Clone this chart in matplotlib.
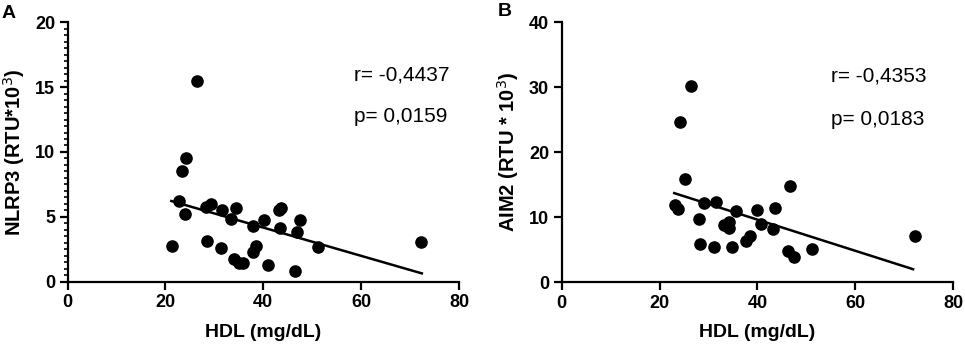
import matplotlib
matplotlib.use("Agg")
import matplotlib.pyplot as plt
from matplotlib.ticker import MultipleLocator

plt.rcParams["font.family"] = ["Liberation Sans", "DejaVu Sans"]

# Panel A: HDL vs NLRP3
hdl_a = [26.5, 24.2, 23.3, 22.7, 23.9, 21.4, 28.2, 29.4, 31.6, 34.4, 33.5, 28.4,
         31.4, 37.8, 40.1, 38.6, 37.8, 34.1, 35.0, 35.9, 41.0, 43.3, 43.7, 43.4,
         47.5, 46.8, 46.4, 51.1, 72.3]
nlrp3 = [15.5, 9.56, 8.56, 6.22, 5.22, 2.75, 5.78, 5.99, 5.50, 5.68, 4.81, 3.14,
         2.60, 4.32, 4.73, 2.78, 2.26, 1.72, 1.41, 1.47, 1.26, 5.53, 5.71, 4.16,
         4.73, 3.80, 0.82, 2.70, 3.06]
fit_a_x = [21.2, 72.4]
fit_a_y = [6.22, 0.64]
y_ticks_a = [0, 5, 10, 15, 20]

# Panel B: HDL vs AIM2
hdl_b = [26.4, 24.1, 25.3, 23.1, 23.8, 29.1, 31.5, 28.1, 28.3, 31.2, 34.8, 35.7,
         33.2, 34.1, 34.2, 37.6, 38.4, 40.0, 40.8, 43.6, 43.2, 46.6, 46.2, 47.4,
         51.1, 72.2]
aim2 = [30.2, 24.6, 15.8, 11.8, 11.3, 12.2, 12.4, 9.74, 5.95, 5.44, 5.38, 10.97,
        8.82, 9.23, 8.31, 6.36, 7.18, 11.1, 8.97, 11.4, 8.2, 14.8, 4.87, 3.95,
        5.18, 7.13]
fit_b_x = [23.0, 71.8]
fit_b_y = [13.7, 2.0]
y_ticks_b = [0, 10, 20, 30, 40]

x_ticks = [0, 20, 40, 60, 80]


def style_axes(ax, y_ticks, minor=None):
    for side in ("top", "right"):
        ax.spines[side].set_visible(False)
    for side in ("left", "bottom"):
        ax.spines[side].set_linewidth(1.6)
    ax.set_xlim(x_ticks[0], x_ticks[-1])
    ax.set_ylim(y_ticks[0], y_ticks[-1])
    ax.set_xticks(x_ticks, labels=[str(v) for v in x_ticks],
                  fontsize=13, fontweight="bold")
    ax.set_yticks(y_ticks, labels=[str(v) for v in y_ticks],
                  fontsize=13, fontweight="bold")
    if minor:
        ax.yaxis.set_minor_locator(MultipleLocator(minor))
        ax.tick_params(axis="y", which="minor", length=3, width=1.2)
    ax.tick_params(axis="both", which="major", length=6, width=1.6, pad=3)
    ax.set_xlabel("HDL (mg/dL)", fontsize=14, fontweight="bold", labelpad=9)


fig = plt.figure(figsize=(9.65, 3.45), dpi=100)
ax_a = fig.add_axes([0.070, 0.1835, 0.4057, 0.752])
ax_b = fig.add_axes([0.582, 0.182, 0.4058, 0.754])

ax_a.scatter(hdl_a, nlrp3, s=65, color="black", zorder=3, clip_on=False)
ax_a.plot(fit_a_x, fit_a_y, color="black", linewidth=1.8)
style_axes(ax_a, y_ticks_a, minor=0.5)
ax_a.set_ylabel("NLRP3 (RTU*10$^{3}$)", fontsize=14.5, fontweight="bold", labelpad=6)
ax_a.text(0.732, 0.797, "r= -0,4437", transform=ax_a.transAxes, fontsize=15,
          ha="left", va="center")
ax_a.text(0.732, 0.635, "p= 0,0159", transform=ax_a.transAxes, fontsize=15,
          ha="left", va="center")

ax_b.scatter(hdl_b, aim2, s=65, color="black", zorder=3, clip_on=False)
ax_b.plot(fit_b_x, fit_b_y, color="black", linewidth=1.8)
style_axes(ax_b, y_ticks_b)
ax_b.set_ylabel("AIM2 (RTU * 10$^{3}$)", fontsize=14.5, fontweight="bold", labelpad=6)
ax_b.text(0.688, 0.793, "r= -0,4353", transform=ax_b.transAxes, fontsize=15,
          ha="left", va="center")
ax_b.text(0.688, 0.625, "p= 0,0183", transform=ax_b.transAxes, fontsize=15,
          ha="left", va="center")

fig.text(9 / 965, 1 - 13 / 345, "A", fontsize=14, fontweight="bold", ha="center", va="center")
fig.text(505 / 965, 1 - 11 / 345, "B", fontsize=14, fontweight="bold", ha="center", va="center")

fig.savefig("out.png", dpi=100)
